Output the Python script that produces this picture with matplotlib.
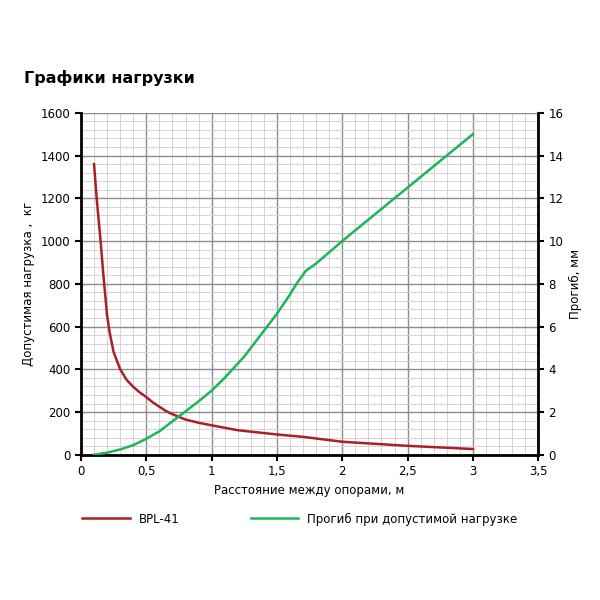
import matplotlib
matplotlib.use("Agg")
import matplotlib.pyplot as plt
from matplotlib.ticker import MultipleLocator, FuncFormatter

x_load = [0.1, 0.12, 0.15, 0.17, 0.2, 0.22, 0.25, 0.3, 0.35, 0.4, 0.45, 0.5, 0.55, 0.6, 0.65, 0.7, 0.8, 0.9, 1.0, 1.2, 1.5, 1.7, 2.0, 2.5, 3.0]
load = [1360, 1200, 1000, 850, 650, 570, 480, 400, 350, 318, 292, 270, 245, 225, 205, 190, 165, 150, 138, 115, 95, 84, 61, 42, 27]
x_def = [0.1, 0.2, 0.3, 0.4, 0.5, 0.6, 0.75, 0.9, 1.0, 1.1, 1.25, 1.4, 1.5, 1.6, 1.65, 1.72, 1.8, 2.0, 2.5, 3.0]
deflection = [0, 0.1, 0.25, 0.45, 0.75, 1.1, 1.8, 2.5, 3.0, 3.6, 4.6, 5.8, 6.6, 7.5, 8.0, 8.6, 8.95, 10.0, 12.5, 15.0]

red = "#a8202a"
green = "#1db45a"

fig = plt.figure(figsize=(6, 6), dpi=100)
ax = fig.add_axes([0.135, 0.242, 0.762, 0.57])
ax2 = ax.twinx()

fmt = FuncFormatter(lambda v, p: ("%g" % v).replace(".", ","))
ax.set_xlim(0, 3.5)
ax.set_ylim(0, 1600)
ax2.set_ylim(0, 16)
ax.xaxis.set_major_locator(MultipleLocator(0.5))
ax.xaxis.set_minor_locator(MultipleLocator(0.1))
ax.yaxis.set_major_locator(MultipleLocator(200))
ax.yaxis.set_minor_locator(MultipleLocator(40))
ax2.yaxis.set_major_locator(MultipleLocator(2))
ax.xaxis.set_major_formatter(fmt)
ax.grid(which="major", color="#8c8c8c", lw=1.0)
ax.grid(which="minor", color="#d4d4d4", lw=0.7)
ax.set_axisbelow(True)
for a in (ax, ax2):
    for s in a.spines.values():
        s.set_visible(False)
    a.tick_params(which="both", length=0, labelsize=8.5)
ax.spines["left"].set_visible(True); ax.spines["left"].set_linewidth(2)
ax.spines["bottom"].set_visible(True); ax.spines["bottom"].set_linewidth(2)
ax2.spines["right"].set_visible(True); ax2.spines["right"].set_linewidth(2)
ax.tick_params(axis="y", which="major", length=4, width=1.5, direction="out")
ax2.tick_params(axis="y", which="major", length=4, width=1.5, direction="out")
ax.tick_params(axis="x", which="major", length=4, width=1.5, direction="out")

l1, = ax.plot(x_load, load, color=red, lw=1.8, solid_joinstyle="round")
l2, = ax2.plot(x_def, deflection, color=green, lw=1.8, solid_joinstyle="round")

ax.set_xlabel("Расстояние между опорами, м", fontsize=8.5)
ax.set_ylabel("Допустимая нагрузка ,  кг", fontsize=8.5)
ax2.set_ylabel("Прогиб, мм", fontsize=8.5)
fig.text(0.04, 0.862, "Графики нагрузки", fontsize=11.5, fontweight="bold")
fig.legend([l1, l2], ["BPL-41", "Прогиб при допустимой нагрузке"], loc="center",
           bbox_to_anchor=(0.5, 0.135), ncol=2, frameon=False, fontsize=8.5,
           handlelength=4, columnspacing=6)
fig.savefig("out.png")
